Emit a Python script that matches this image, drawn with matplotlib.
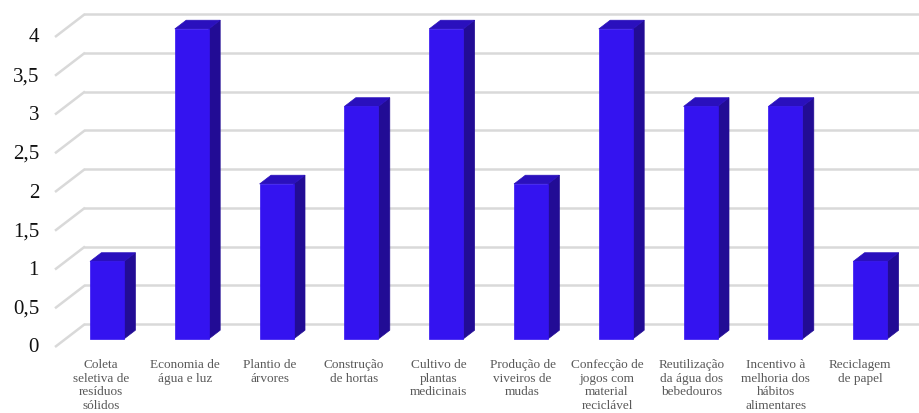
import matplotlib
matplotlib.use("Agg")
import matplotlib.pyplot as plt
from matplotlib.patches import Polygon

categories = [
    "Coleta\nseletiva de\nresíduos\nsólidos",
    "Economia de\nágua e luz",
    "Plantio de\nárvores",
    "Construção\nde hortas",
    "Cultivo de\nplantas\nmedicinais",
    "Produção de\nviveiros de\nmudas",
    "Confecção de\njogos com\nmaterial\nreciclável",
    "Reutilização\nda água dos\nbebedouros",
    "Incentivo à\nmelhoria dos\nhábitos\nalimentares",
    "Reciclagem\nde papel",
]
values = [1, 4, 2, 3, 4, 2, 4, 3, 3, 1]
tick_values = [0, 0.5, 1, 1.5, 2, 2.5, 3, 3.5, 4]
tick_labels = ["0", "0,5", "1", "1,5", "2", "2,5", "3", "3,5", "4"]

W, H = 920, 414
fig = plt.figure(figsize=(W / 100, H / 100), dpi=100)
ax = fig.add_axes([0, 0, 1, 1])
ax.set_axis_off()

# data scale: one category per unit on x, value units on y
px_x = 84.8
px_y = 77.5
x0_px = 107.0
y0_px = 66.0
ax.set_xlim(-x0_px / px_x, (W - x0_px) / px_x)
ax.set_ylim(-y0_px / px_y, (H - y0_px) / px_y)

# full depth of the 3-D box (front plane -> back wall)
DX = 30 / px_x
DY = 23 / px_y


def off(d):
    return d * DX, d * DY


grid_c = "#d9d9d9"
x_front = (55 - x0_px) / px_x
x_back = x_front + DX
x_end = (W + 20 - x0_px) / px_x
for v in tick_values:
    ax.plot([x_front, x_back], [v, v + DY], color=grid_c, lw=1.8,
            solid_capstyle="butt", zorder=1)
    ax.plot([x_back, x_end], [v + DY, v + DY], color=grid_c, lw=1.8,
            zorder=1)

for v, lab in zip(tick_values, tick_labels):
    ax.text((39 - x0_px) / px_x, v, lab, ha="right", va="center",
            fontsize=15, family="Liberation Serif", color="#111111")

front_c = "#3413f0"
top_c = "#2a10bd"
side_c = "#220c95"
bw = 34 / px_x
d1, d2 = 0.35, 0.73
for i, v in enumerate(values):
    fx, fy = off(d1)
    bx, by = off(d2)
    xl = i - 17 / px_x - fx
    xr = xl + bw
    front = [(xl + fx, fy), (xr + fx, fy), (xr + fx, v + fy), (xl + fx, v + fy)]
    side = [(xr + fx, fy), (xr + bx, by), (xr + bx, v + by), (xr + fx, v + fy)]
    top = [(xl + fx, v + fy), (xr + fx, v + fy), (xr + bx, v + by), (xl + bx, v + by)]
    ax.add_patch(Polygon(side, closed=True, fc=side_c, ec=side_c, lw=0.5, zorder=3))
    ax.add_patch(Polygon(top, closed=True, fc=top_c, ec=top_c, lw=0.5, zorder=3))
    ax.add_patch(Polygon(front, closed=True, fc=front_c, ec=front_c, lw=0.5, zorder=4))

label_step = 84.33 / px_x
label_x0 = (101 - x0_px) / px_x
for i, lab in enumerate(categories):
    ax.text(label_x0 + i * label_step, -11 / px_y, lab, ha="center", va="top",
            fontsize=9.5, family="Liberation Serif", color="#595959",
            linespacing=1.17)

fig.savefig("out.png", dpi=100, facecolor="white")
